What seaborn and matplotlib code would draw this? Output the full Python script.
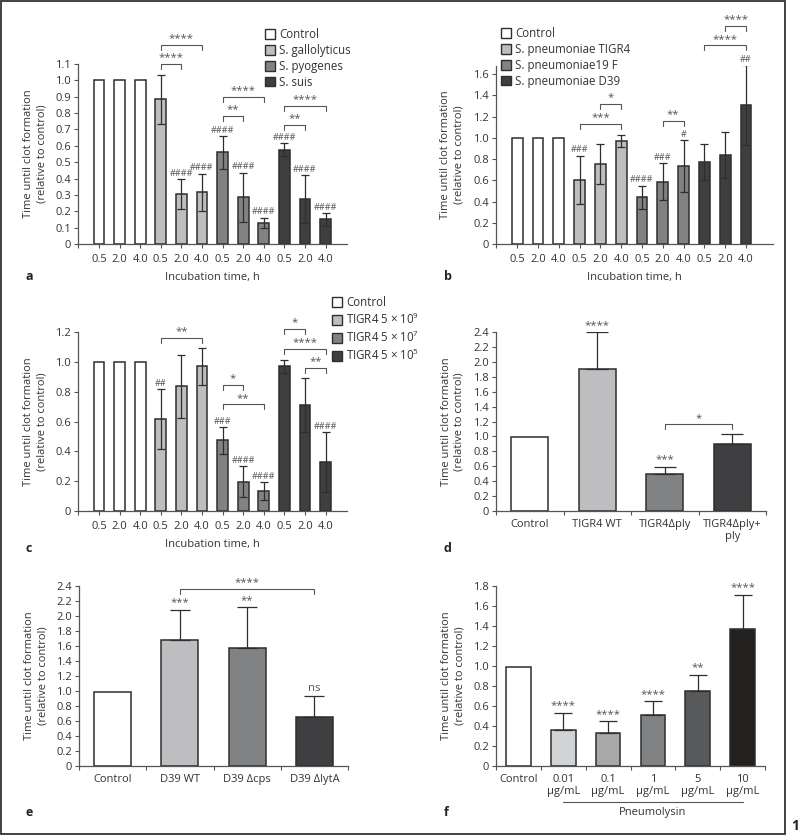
import numpy as np
import pandas as pd
import matplotlib
matplotlib.use("Agg")
import matplotlib.pyplot as plt
from matplotlib.patches import Patch, Rectangle
import seaborn as sns

W, H = 799, 836

# ---- data ----
TIMES = ["0.5", "2.0", "4.0"]
WHITE = "#ffffff"
LIGHT = "#bdbec1"
MID = "#808285"
DARK = "#3f3f41"

a_groups = ["Control", "S. gallolyticus", "S. pyogenes", "S. suis"]
a_means = [1.0, 1.0, 1.0, 0.885, 0.305, 0.315, 0.56, 0.285, 0.13, 0.575, 0.275, 0.15]
a_errs = [0, 0, 0, 0.15, 0.09, 0.115, 0.10, 0.15, 0.03, 0.04, 0.145, 0.04]
a_marks = ["", "", "", "", "####", "####", "####", "####", "####", "####", "####", "####"]
a_brackets = [(3, 4, 1.10, "****"), (3, 5, 1.215, "****"), (6, 7, 0.785, "**"),
              (6, 8, 0.90, "****"), (9, 10, 0.73, "**"), (9, 11, 0.845, "****")]

b_groups = ["Control", "S. pneumoniae TIGR4", "S. pneumoniae19 F", "S. pneumoniae D39"]
b_means = [1.0, 1.0, 1.0, 0.605, 0.755, 0.97, 0.44, 0.585, 0.73, 0.775, 0.84, 1.31]
b_errs = [0, 0, 0, 0.225, 0.19, 0.06, 0.11, 0.175, 0.245, 0.17, 0.215, 0.375]
b_marks = ["", "", "", "###", "", "", "####", "###", "#", "", "", "##"]
b_brackets = [(4, 5, 1.315, "*"), (3, 5, 1.13, "***"), (7, 8, 1.16, "**"),
              (9, 11, 1.87, "****"), (10, 11, 2.05, "****")]

c_groups = ["Control", r"TIGR4 5 × $\mathregular{10^{9}}$",
            r"TIGR4 5 × $\mathregular{10^{7}}$", r"TIGR4 5 × $\mathregular{10^{5}}$"]
c_means = [1.0, 1.0, 1.0, 0.615, 0.835, 0.97, 0.473, 0.197, 0.135, 0.97, 0.71, 0.33]
c_errs = [0, 0, 0, 0.2, 0.21, 0.125, 0.09, 0.105, 0.06, 0.045, 0.18, 0.2]
c_marks = ["", "", "", "##", "", "", "###", "####", "####", "", "", "####"]
c_brackets = [(3, 5, 1.163, "**"), (6, 7, 0.845, "*"), (6, 8, 0.715, "**"),
              (9, 10, 1.22, "*"), (9, 11, 1.087, "****"), (10, 11, 0.962, "**")]

d_labels = ["Control", "TIGR4 WT", "TIGR4Δply", "TIGR4Δply+\nply"]
d_means = [0.99, 1.91, 0.50, 0.90]
d_errs = [0, 0.49, 0.09, 0.13]
d_marks = ["", "****", "***", ""]
d_brackets = [(2, 3, 1.16, "*")]

e_labels = ["Control", "D39 WT", "D39 Δcps", "D39 ΔlytA"]
e_means = [0.99, 1.675, 1.58, 0.66]
e_errs = [0, 0.41, 0.54, 0.28]
e_marks = ["", "***", "**", "ns"]
e_brackets = [(1, 3, 2.364, "****")]

f_labels = ["Control", "0.01\nµg/mL", "0.1\nµg/mL", "1\nµg/mL", "5\nµg/mL", "10\nµg/mL"]
f_means = [0.99, 0.365, 0.335, 0.51, 0.755, 1.37]
f_errs = [0, 0.167, 0.113, 0.14, 0.16, 0.343]
f_marks = ["", "****", "****", "****", "**", "****"]
f_colors = ["#ffffff", "#d1d3d4", "#a7a9ac", "#808285", "#58595b", "#231f20"]

EDGE = "#2e2e2e"
AXC = "#555555"
TXT = "#333333"
FS = 8

sns.set_style("ticks")
plt.rcParams["font.family"] = ["Open Sans", "DejaVu Sans"]
plt.rcParams["mathtext.fontset"] = "custom"
plt.rcParams["mathtext.rm"] = "Open Sans"

fig = plt.figure(figsize=(W / 100, H / 100), dpi=100)


def make_ax(left, top, right, bottom):
    return fig.add_axes([left / W, 1 - bottom / H, (right - left) / W, (bottom - top) / H])


def bars(ax, means, errs, colors, marks, two_sided, capsize, width, ymax, ystep):
    n = len(means)
    ids = ["b%d" % i for i in range(n)]
    df = pd.DataFrame({"bar": ids, "value": means})
    sns.barplot(data=df, x="bar", y="value", hue="bar", order=ids, hue_order=ids,
                palette=colors, width=width, errorbar=None, edgecolor=EDGE,
                linewidth=1.1, legend=False, ax=ax)
    x = np.arange(n)
    m = np.array(means)
    e = np.array(errs)
    k = e > 0
    low = e if two_sided else np.zeros(n)
    ax.errorbar(x[k], m[k], yerr=[low[k], e[k]], fmt="none", ecolor=EDGE,
                elinewidth=0.9, capsize=capsize, capthick=0.9, zorder=4)
    for i, s in enumerate(marks):
        if s:
            small = s.startswith("#")
            ax.annotate(s, (i, m[i] + e[i]), xytext=(0, 1.0), textcoords="offset points",
                        ha="center", va="bottom", fontsize=6.5 if small else 8.2,
                        color="#555555", annotation_clip=False)
    ax.set_ylim(0, ymax)
    ticks = np.arange(0, ymax + 1e-6, ystep)
    ax.set_yticks(ticks)
    ax.set_yticklabels(["0" if t == 0 else "%.1f" % t for t in ticks])
    ax.set_ylabel("Time until clot formation\n(relative to control)", fontsize=FS,
                  color=TXT, linespacing=1.25)
    ax.yaxis.set_label_coords(-0.115, 0.5)
    ax.set_xlabel("")
    sns.despine(ax=ax)
    for sp in ("left", "bottom"):
        ax.spines[sp].set_color(AXC)
        ax.spines[sp].set_linewidth(0.9)
    ax.tick_params(axis="both", which="both", direction="out", length=3, width=0.8,
                   color=AXC, labelsize=FS, labelcolor=TXT, pad=2)
    return ax


def brackets(ax, items, ymax):
    drop = ymax * 0.028
    for i, j, y, s in items:
        ax.plot([i, i, j, j], [y - drop, y, y, y - drop], color="#555555", lw=0.8,
                clip_on=False)
        ax.annotate(s, ((i + j) / 2, y), xytext=(0, 0.5), textcoords="offset points",
                    ha="center", va="bottom", fontsize=8.2, color="#555555",
                    annotation_clip=False)


def grouped(ax, groups, means, errs, marks, brs, ymax, ystep, xr):
    colors = [WHITE] * 3 + [LIGHT] * 3 + [MID] * 3 + [DARK] * 3
    bars(ax, means, errs, colors, marks, True, 3.0, 0.52, ymax, ystep)
    ax.set_xlim(-1.02, xr)
    ax.set_xticks(range(12))
    ax.set_xticklabels(TIMES * 4)
    ax.set_xticks([-1.02], minor=True)
    ax.tick_params(axis="x", pad=4)
    ax.set_xlabel("Incubation time, h", fontsize=FS, color=TXT, labelpad=5.5)
    brackets(ax, brs, ymax)
    handles = [Patch(facecolor=c, edgecolor=EDGE, linewidth=1.0) for c in (WHITE, LIGHT, MID, DARK)]
    return handles


def simple(ax, labels, means, errs, colors, marks, brs, ymax, ystep, capsize):
    bars(ax, means, errs, colors, marks, False, capsize, 0.55, ymax, ystep)
    n = len(labels)
    ax.set_xlim(-0.5, n - 0.5)
    ax.set_xticks(range(n))
    ax.set_xticklabels(labels, linespacing=1.1)
    ax.set_xticks(np.arange(-0.5, n), minor=True)
    ax.tick_params(axis="x", which="major", length=0, pad=6)
    brackets(ax, brs, ymax)


LEG = dict(bbox_transform=fig.transFigure, frameon=False, fontsize=8.3,
           handlelength=0.9, handleheight=0.9, handletextpad=0.35,
           labelspacing=0.25, borderpad=0, borderaxespad=0, labelcolor=TXT,
           loc="upper left")

# panel a
ax_a = make_ax(78, 64, 347, 244)
h = grouped(ax_a, a_groups, a_means, a_errs, a_marks, a_brackets, 1.1, 0.1, 12.04)
ax_a.legend(h, a_groups, bbox_to_anchor=(265 / W, 1 - 28 / H), **LEG)

# panel b
ax_b = make_ax(496, 65.5, 773, 244)
h = grouped(ax_b, b_groups, b_means, b_errs, b_marks, b_brackets, 1.68, 0.2, 12.3)
ax_b.set_yticks(np.arange(0, 1.61, 0.2))
ax_b.set_yticklabels(["0" if t == 0 else "%.1f" % t for t in np.arange(0, 1.61, 0.2)])
ax_b.legend(h, b_groups, bbox_to_anchor=(501 / W, 1 - 27 / H), **LEG)

# panel c
ax_c = make_ax(78, 332, 347, 511)
h = grouped(ax_c, c_groups, c_means, c_errs, c_marks, c_brackets, 1.2, 0.2, 12.04)
ax_c.legend(h, c_groups, bbox_to_anchor=(332 / W, 1 - 296 / H), **LEG)

# panel d
ax_d = make_ax(496, 332, 766, 511)
simple(ax_d, d_labels, d_means, d_errs, [WHITE, LIGHT, MID, DARK], d_marks, d_brackets,
       2.4, 0.2, 8.0)

# panel e
ax_e = make_ax(79, 586, 348, 766)
simple(ax_e, e_labels, e_means, e_errs, [WHITE, LIGHT, MID, DARK], e_marks, e_brackets,
       2.4, 0.2, 7.0)

# panel f
ax_f = make_ax(496, 586, 765, 766)
simple(ax_f, f_labels, f_means, f_errs, f_colors, f_marks, [], 1.8, 0.2, 6.3)
tr = ax_f.get_xaxis_transform()
ax_f.plot([1, 5], [-0.2, -0.2], color="#555555", lw=0.8, transform=tr, clip_on=False)
ax_f.text(3, -0.257, "Pneumolysin", transform=tr, ha="center", va="center",
          fontsize=FS, color=TXT)

# panel letters
for s, x, y in [("a", 26, 276), ("b", 444, 276), ("c", 26, 548),
                ("d", 444, 548), ("e", 26, 813), ("f", 444, 813)]:
    fig.text(x / W, 1 - y / H, s, fontsize=9, fontweight="bold", color="#222222",
             ha="left", va="center")

fig.add_artist(Rectangle((1 / W, 2 / H), 784 / W, 833 / H, transform=fig.transFigure,
                         fill=False, edgecolor="#333333", lw=1.3))
fig.text(791 / W, 1 - 826 / H, "1", fontsize=10, fontweight="bold", color="#222222",
         ha="left", va="center")

fig.savefig("out.png", dpi=100)
